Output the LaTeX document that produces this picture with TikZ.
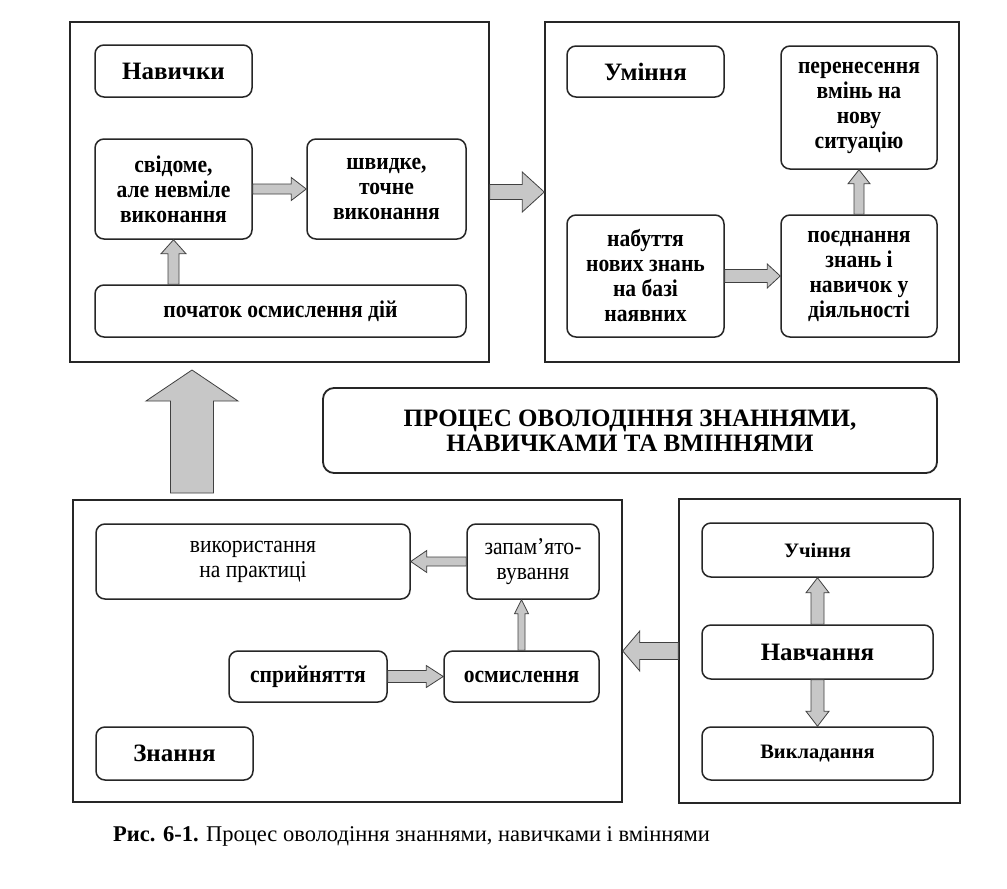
\documentclass[tikz,border=0pt]{standalone}
\usepackage{fontspec}
\setmainfont{Liberation Serif}
\newfontfamily\cnd{Liberation Serif}[FakeStretch=0.9]
\usetikzlibrary{calc}
\newcommand{\harrow}[5]{\draw[ha] let \p1=(#4),\p2=(#5),\n1={veclen(\x2-\x1,\y2-\y1)},\n2={(\x2-\x1)/\n1},\n3={(\y2-\y1)/\n1},\n4={\n1-#3} in
 (\x1-#1*\n3,\y1+#1*\n2)--(\x1+\n4*\n2-#1*\n3,\y1+\n4*\n3+#1*\n2)--(\x1+\n4*\n2-#2*\n3,\y1+\n4*\n3+#2*\n2)--(\p2)
 --(\x1+\n4*\n2+#2*\n3,\y1+\n4*\n3-#2*\n2)--(\x1+\n4*\n2+#1*\n3,\y1+\n4*\n3-#1*\n2)--(\x1+#1*\n3,\y1-#1*\n2)--cycle;}
\tikzset{wh/.style 2 args={minimum width=#1pt,minimum height=#2pt},
 outer/.style={draw=black!85,line width=1.5pt,inner sep=0pt},
 hd/.style={draw=black!85,line width=1.5pt,rounded corners=9pt,inner sep=0pt,font=\fontsize{25}{28}\selectfont\bfseries},
 st/.style={draw=black!85,line width=1.5pt,rounded corners=9pt,inner sep=0pt,align=center,font=\cnd\fontsize{24}{25}\selectfont\bfseries},
 stn/.style={st,font=\cnd\fontsize{24}{25}\selectfont},
 ttl/.style={draw=black!85,line width=1.8pt,rounded corners=11pt,inner sep=0pt,align=center,font=\fontsize{25}{25}\selectfont\bfseries},
 ha/.style={draw=black!75,line width=0.8pt,fill=black!22,line join=miter},
 capt/.style={anchor=west,inner sep=0pt,font=\fontsize{22.5}{26}\selectfont}}
\begin{document}
\begin{tikzpicture}[x=1pt,y=-1pt]
\useasboundingbox[fill=white](0,0) rectangle (1007,889);
% skills
\node[outer,wh={419}{340}](tl) at (279.5,192){};
\node[hd,wh={157}{52}](hn) at (173.5,71){Навички};
\node[st,wh={157}{100}](sv) at (173.5,189){свідоме,\\але невміле\\виконання};
\node[st,wh={159}{100}](sh) at (386.5,189){швидке,\\точне\\виконання};
\node[st,wh={371}{52}](pc) at (280.5,311){початок осмислення дій};
\harrow{5}{11.5}{15}{sv.east}{sh.west}
\harrow{5.5}{12.5}{14}{sv.south|-pc.north}{sv.south}
% abilities
\node[outer,wh={414}{340}](tr) at (752,192){};
\node[hd,wh={157}{51}](hu) at (645.5,71.5){Уміння};
\node[st,wh={156}{123}](pr) at (859,107.5){перенесення\\вмінь на\\нову\\ситуацію};
\node[st,wh={157}{122}](nb) at (645.5,276){набуття\\нових знань\\на базі\\наявних};
\node[st,wh={156}{122}](pd) at (859,276){поєднання\\знань і\\навичок у\\діяльності};
\harrow{6.5}{12}{13}{nb.east}{pd.west}
\harrow{5}{11}{14}{pd.north}{pr.south}
\harrow{7.5}{20}{22}{tl.east}{tr.west}
% title
\node[ttl,wh={614}{85}](tt) at (630,430.5){ПРОЦЕС ОВОЛОДІННЯ ЗНАННЯМИ,\\НАВИЧКАМИ ТА ВМІННЯМИ};
% knowledge
\node[outer,wh={549}{302}](ll) at (347.5,651){};
\node[stn,wh={314}{75}](vk) at (253,561.5){використання\\на практиці};
\node[stn,wh={132}{75}](zp) at (533,561.5){запам’ято-\\вування};
\node[st,wh={158}{51}](sp) at (308,676.5){сприйняття};
\node[st,wh={155}{51}](os) at (521.5,676.5){осмислення};
\node[hd,wh={157}{53}](hz) at (174.5,753.5){Знання};
\harrow{4.5}{11}{16}{zp.west}{vk.east}
\harrow{6}{11}{17}{sp.east}{os.west}
\harrow{3.5}{7}{14}{os.north}{os.north|-zp.south}
% learning
\node[outer,wh={281}{304}](lr) at (819.5,651){};
\node[hd,wh={231}{54},font=\fontsize{20.5}{23}\selectfont\bfseries](uc) at (817.5,550){Учіння};
\node[hd,wh={231}{54}](nv) at (817.5,652){Навчання};
\node[hd,wh={231}{53},font=\fontsize{20.5}{23}\selectfont\bfseries](vy) at (817.5,753.5){Викладання};
\harrow{6.5}{11.5}{15}{nv.north}{uc.south}
\harrow{6.5}{11.5}{15}{nv.south}{vy.north}
\harrow{8.5}{20}{17}{lr.west}{ll.east}
\coordinate(up1) at (192,493);\coordinate(up2) at (192,370);
\harrow{21.5}{46}{31}{up1}{up2}
\node[capt](cp) at (113,836){\textbf{Рис. 6-1.} Процес оволодіння знаннями, навичками і вміннями};
\end{tikzpicture}
\end{document}
